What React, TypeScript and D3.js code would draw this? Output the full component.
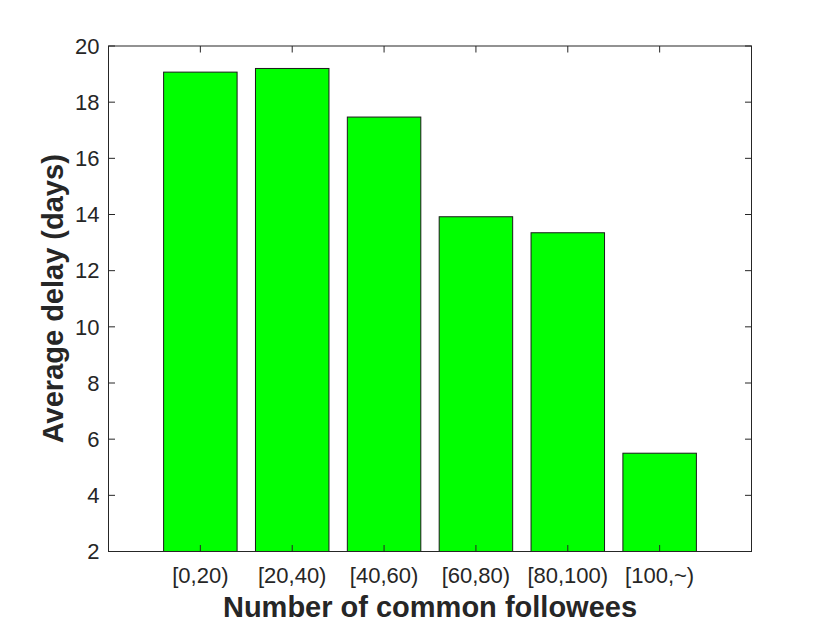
import React, { useEffect, useRef } from 'react';
import * as d3 from 'd3';

const categories = ['[0,20)', '[20,40)', '[40,60)', '[60,80)', '[80,100)', '[100,~)'];
const delays = [19.07, 19.2, 17.47, 13.92, 13.35, 5.5];
const yTicks = [2, 4, 6, 8, 10, 12, 14, 16, 18, 20];

const W = 830;
const H = 623;
const margin = { left: 108.5, top: 46, right: 830 - 751.5, bottom: 623 - 551.5 };
const axisColor = '#262626';
const font = '"Liberation Sans", Arial, Helvetica, sans-serif';

const App = () => {
  const svgRef = useRef<SVGSVGElement>(null);

  useEffect(() => {
    if (!svgRef.current) return;
    const svg = d3.select(svgRef.current);
    svg.selectAll('*').remove();

    const x = d3.scaleLinear().domain([0, categories.length + 1]).range([margin.left, W - margin.right]);
    const y = d3.scaleLinear().domain([2, 20]).range([H - margin.bottom, margin.top]);
    const barW = (x(1) - x(0)) * 0.8;

    // bars
    svg.append('g')
      .selectAll('rect')
      .data(delays)
      .enter().append('rect')
      .attr('x', (d, i) => x(i + 1) - barW / 2)
      .attr('y', d => y(d))
      .attr('width', barW)
      .attr('height', d => y(2) - y(d))
      .attr('fill', '#00ff00')
      .attr('stroke', '#1a1a1a')
      .attr('stroke-width', 1);

    // axes box
    const x0 = x(0), x1 = x(categories.length + 1), yTop = y(20), yBot = y(2);
    const box = svg.append('g').attr('stroke', axisColor).attr('stroke-width', 1).attr('fill', 'none');
    box.append('rect').attr('x', x0).attr('y', yTop).attr('width', x1 - x0).attr('height', yBot - yTop);

    // y ticks (inward, both sides)
    const tl = 6.5;
    yTicks.forEach(t => {
      box.append('line').attr('x1', x0).attr('x2', x0 + tl).attr('y1', y(t)).attr('y2', y(t));
      box.append('line').attr('x1', x1).attr('x2', x1 - tl).attr('y1', y(t)).attr('y2', y(t));
    });
    // x ticks (inward, top and bottom)
    categories.forEach((c, i) => {
      box.append('line').attr('x1', x(i + 1)).attr('x2', x(i + 1)).attr('y1', yTop).attr('y2', yTop + tl);
      box.append('line').attr('x1', x(i + 1)).attr('x2', x(i + 1)).attr('y1', yBot).attr('y2', yBot - tl);
    });

    // y tick labels
    svg.append('g')
      .selectAll('text')
      .data(yTicks)
      .enter().append('text')
      .attr('x', x0 - 9)
      .attr('y', d => y(d))
      .attr('dy', '0.35em')
      .attr('text-anchor', 'end')
      .style('font-family', font)
      .style('font-size', '22px')
      .style('fill', axisColor)
      .text(d => d);

    // x tick labels
    svg.append('g')
      .selectAll('text')
      .data(categories)
      .enter().append('text')
      .attr('x', (d, i) => x(i + 1))
      .attr('y', yBot + 31.5)
      .attr('text-anchor', 'middle')
      .style('font-family', font)
      .style('font-size', '22px')
      .style('fill', axisColor)
      .text(d => d);

    // axis titles
    svg.append('text')
      .attr('x', (x0 + x1) / 2)
      .attr('y', 616.5)
      .attr('text-anchor', 'middle')
      .style('font-family', font)
      .style('font-size', '29px')
      .style('font-weight', 'bold')
      .style('fill', axisColor)
      .text('Number of common followees');

    svg.append('text')
      .attr('transform', `translate(63,${(yTop + yBot) / 2}) rotate(-90)`)
      .attr('text-anchor', 'middle')
      .style('font-family', font)
      .style('font-size', '29px')
      .style('font-weight', 'bold')
      .style('fill', axisColor)
      .text('Average delay (days)');
  }, []);

  return (
    <svg ref={svgRef} width={W} height={H}
      style={{ position: 'absolute', left: 0, top: 0, background: '#fff' }} />
  );
};

export default App;
